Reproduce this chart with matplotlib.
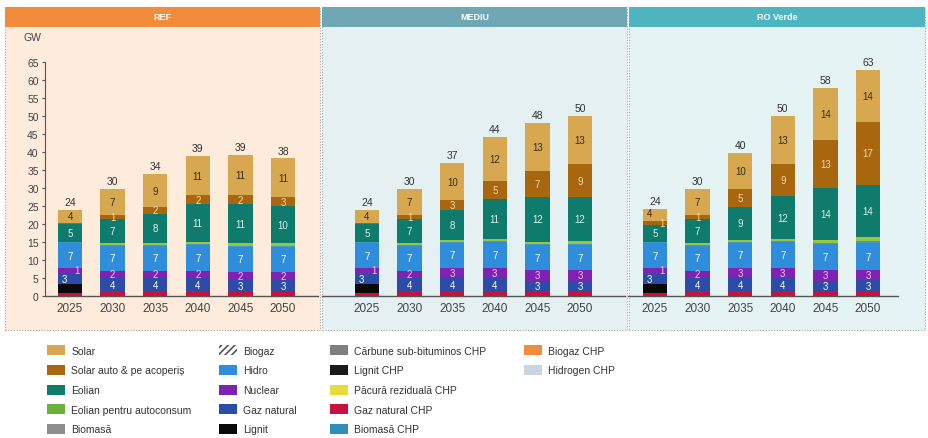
import matplotlib
matplotlib.use("Agg")
import matplotlib.pyplot as plt
from matplotlib.patches import Rectangle, Patch
import numpy as np

plt.rcParams['font.family'] = ['Liberation Sans', 'DejaVu Sans']
plt.rcParams['hatch.color'] = "#555555"
plt.rcParams['hatch.linewidth'] = 1.2

years = ["2025", "2030", "2035", "2040", "2045", "2050"]
scenarios = ["REF", "MEDIU", "RO Verde"]

# rows: REF, MEDIU, RO Verde  (GW)
gaz_natural_chp = [[0.8, 1.2, 1.2, 1.2, 1.2, 1.2],
                   [0.8, 1.2, 1.2, 1.2, 1.0, 1.0],
                   [0.8, 1.2, 1.2, 1.2, 1.0, 1.0]]
lignit = [[2.4, 0, 0, 0, 0, 0],
          [2.4, 0, 0, 0, 0, 0],
          [2.4, 0, 0, 0, 0, 0]]
gaz_natural = [[3.2, 3.8, 3.8, 3.8, 3.4, 3.4],
               [3.2, 3.8, 3.8, 3.8, 3.3, 3.3],
               [3.2, 3.8, 3.8, 3.8, 3.3, 3.4]]
nuclear = [[1.4, 2.0, 2.0, 2.0, 2.0, 2.0],
           [1.4, 2.0, 2.8, 2.8, 2.8, 2.8],
           [1.4, 2.0, 2.8, 2.8, 2.8, 2.8]]
hidro = [[6.8, 7.0, 7.0, 7.1, 7.1, 7.1],
         [6.8, 7.0, 7.0, 7.1, 7.1, 7.1],
         [6.8, 7.0, 7.0, 7.1, 7.3, 7.4]]
biomasa_chp = [[0.3, 0.3, 0.3, 0.3, 0.3, 0.3],
               [0.3, 0.3, 0.3, 0.3, 0.3, 0.3],
               [0.3, 0.3, 0.3, 0.3, 0.3, 0.7]]
eolian_autoconsum = [[0.2, 0.3, 0.4, 0.5, 0.6, 0.7],
                     [0.2, 0.3, 0.4, 0.5, 0.6, 0.7],
                     [0.2, 0.3, 0.4, 0.5, 0.8, 1.2]]
eolian = [[4.9, 6.8, 8.2, 10.7, 11.0, 10.2],
          [4.9, 6.8, 8.4, 11.2, 12.3, 12.3],
          [4.6, 6.8, 9.3, 12.2, 14.4, 14.4]]
solar_auto = [[0.4, 1.2, 1.8, 2.4, 2.4, 2.6],
              [0.4, 1.2, 2.8, 5.0, 7.2, 9.1],
              [1.0, 1.2, 4.8, 8.8, 13.4, 17.4]]
solar = [[3.6, 7.2, 9.1, 10.8, 11.1, 10.7],
         [3.6, 7.2, 10.2, 12.2, 13.4, 13.4],
         [3.6, 7.2, 10.2, 13.2, 14.4, 14.4]]

# stacking order bottom -> top: (data, color, label colour or None)
stack = [
    (gaz_natural_chp, "#C8123C", None),
    (lignit, "#0A0A0A", None),
    (gaz_natural, "#2B4DA8", "#FFFFFF"),
    (nuclear, "#7E22B4", "#F3C2FA"),
    (hidro, "#2F8DDB", "#FFFFFF"),
    (biomasa_chp, "#3A9AC8", None),
    (eolian_autoconsum, "#9CC43C", None),
    (eolian, "#0E7B6C", "#DDF3EA"),
    (solar_auto, "#A8660F", "#FBD9A6"),
    (solar, "#D7A84F", "#3A2A10"),
]

W, H = 929, 439
fig = plt.figure(figsize=(W / 100, H / 100), dpi=100)
fig.patch.set_facecolor("white")


def fx(px):
    return px / W


def fy(py):
    return 1 - py / H


panels = [
    dict(x0=5, x1=320, head="#F08C3C", bg="#FDEBDC"),
    dict(x0=322, x1=627, head="#6FA7B4", bg="#E4F0F2"),
    dict(x0=629, x1=925, head="#4DB5C0", bg="#E6F3F5"),
]
top_px, head_px, bot_px = 8, 28, 331
for p, name in zip(panels, scenarios):
    fig.add_artist(Rectangle((fx(p["x0"]), fy(bot_px)), fx(p["x1"] - p["x0"]),
                             (bot_px - top_px) / H, transform=fig.transFigure,
                             facecolor=p["bg"], edgecolor="#A8A8A8", lw=0.8,
                             ls=(0, (1, 1.5)), zorder=-5))
    fig.add_artist(Rectangle((fx(p["x0"]), fy(head_px)), fx(p["x1"] - p["x0"]),
                             (head_px - top_px) / H, transform=fig.transFigure,
                             facecolor=p["head"], edgecolor="none", zorder=-4))
    fig.text(fx((p["x0"] + p["x1"]) / 2), fy((top_px + head_px) / 2), name,
             color="white", fontsize=6.5, fontweight="bold", ha="center", va="center")

spacing = 42.6
axes_px = [(45, 318, 70), (322, 625, 367), (628, 898, 655)]
y0_px, ytop_px = 297, 63
x = np.arange(len(years))
bw = 0.57

for si, (l, r, c0) in enumerate(axes_px):
    ax = fig.add_axes([fx(l), fy(y0_px), fx(r - l), (y0_px - ytop_px) / H])
    ax.set_facecolor("none")
    ax.set_xlim((l - c0) / spacing, (r - c0) / spacing)
    ax.set_ylim(0, 65)
    bottom = np.zeros(len(years))
    for data, col, lc in stack:
        vals = np.array(data[si], dtype=float)
        ax.bar(x, vals, bw, bottom=bottom, color=col, edgecolor="none", zorder=2)
        if lc is not None:
            for i, v in enumerate(vals):
                if v >= 0.95:
                    xo = 0
                    if i == 0:
                        if data is nuclear or data is solar_auto:
                            xo = 0.16
                        elif data is gaz_natural or (data is solar and solar_auto[si][0] >= 0.95):
                            xo = -0.14
                    yc = bottom[i] + v / 2
                    if i == 0 and data is solar and solar_auto[si][0] >= 0.95:
                        yc += 0.6
                    ax.text(x[i] + xo, yc, f"{int(v + 0.5)}", color=lc,
                            fontsize=7, ha="center", va="center", zorder=3)
        bottom += vals
    for i, t in enumerate(bottom):
        ax.text(x[i], t + 0.8, f"{int(t + 0.5)}", color="#333333", fontsize=7.5,
                ha="center", va="bottom", zorder=3)
    for s in ["top", "right"]:
        ax.spines[s].set_visible(False)
    ax.spines["bottom"].set_color("#555555")
    ax.spines["bottom"].set_linewidth(1.0)
    ax.set_xticks(x)
    ax.set_xticklabels(years, fontsize=8.5, color="#444444")
    ax.tick_params(axis="x", length=0, pad=4)
    if si == 0:
        ax.spines["left"].set_color("#555555")
        ax.set_yticks(np.arange(0, 66, 5))
        ax.tick_params(axis="y", labelsize=7.5, labelcolor="#444444", length=2.5,
                       color="#555555", pad=2)
    else:
        ax.spines["left"].set_visible(False)
        ax.set_yticks([])

fig.text(fx(24), fy(38), "GW", fontsize=7.5, color="#444444", ha="left", va="center")

legend_cols = [
    [("Solar", "#D7A84F", None), ("Solar auto & pe acoperiș", "#A8660F", None),
     ("Eolian", "#0E7B6C", None), ("Eolian pentru autoconsum", "#6DB03A", None),
     ("Biomasă", "#8E8E8E", None)],
    [("Biogaz", "white", "/////"), ("Hidro", "#2F8DDB", None),
     ("Nuclear", "#7E22B4", None), ("Gaz natural", "#2B4DA8", None),
     ("Lignit", "#0A0A0A", None)],
    [("Cărbune sub-bituminos CHP", "#7F7F7F", None), ("Lignit CHP", "#1A1A1A", None),
     ("Păcură reziduală CHP", "#E6DC3C", None), ("Gaz natural CHP", "#C8123C", None),
     ("Biomasă CHP", "#2E8FB8", None)],
    [("Biogaz CHP", "#F08C3C", None), ("Hidrogen CHP", "#C9D5E2", None)],
]
col_x = [44, 216, 327, 521]
for cx, items in zip(col_x, legend_cols):
    handles = []
    for t, c, h in items:
        if h:
            handles.append(Patch(facecolor=c, edgecolor="#555555", lw=0, hatch=h, label=t))
        else:
            handles.append(Patch(facecolor=c, edgecolor="none", label=t))
    lg = fig.legend(handles=handles, loc="upper left", bbox_to_anchor=(fx(cx), fy(343)),
                    frameon=False, fontsize=7.5, handlelength=1.7, handleheight=1.1,
                    handletextpad=0.6, labelspacing=0.88, borderaxespad=0, borderpad=0.3)
    for t in lg.get_texts():
        t.set_color("#333333")

fig.savefig("out.png", dpi=100)
